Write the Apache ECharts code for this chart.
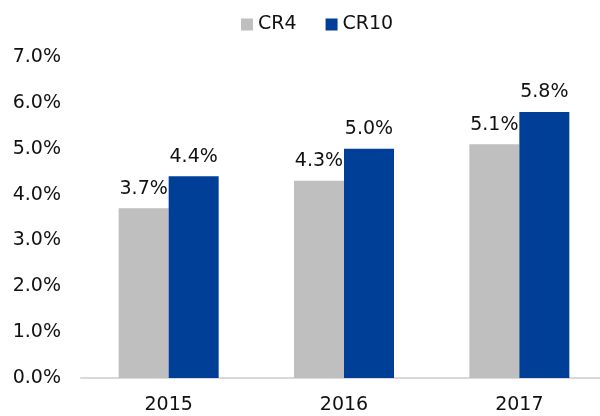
<html>
<head>
<meta http-equiv="Content-Type" content="text/html; charset=utf-8">
<script type="text/javascript" src="https://cdn.jsdelivr.net/npm/echarts@6/dist/echarts.min.js"></script>
<style>
  html, body { margin: 0; padding: 0; background: #fff; overflow: hidden; }
  #main { width: 607px; height: 416px; }
</style>
</head>
<body>
<div id="main"></div>
<script type="text/javascript">
var years = ['2015', '2016', '2017'];
var cr4 = [3.7, 4.3, 5.1];
var cr10 = [4.4, 5.0, 5.8];
var seriesNames = ['CR4', 'CR10'];

var font = 'DejaVu Sans';
function pct(v) { return Number(v).toFixed(1) + '%'; }

var barLabel = {
	show: true,
	position: 'top',
	distance: 10,
	color: '#111',
	fontFamily: font,
	fontSize: 19,
	formatter: function (p) { return pct(p.value); }
};

// plot area runs a few px past the right edge of the window, as in the original
var myChart = echarts.init(document.getElementById('main'));
myChart.setOption({
	animation: false,
	legend: {
		left: 241,
		top: 15,
		padding: 0,
		itemWidth: 12,
		itemHeight: 12,
		itemGap: 29,
		icon: 'rect',
		textStyle: { fontFamily: font, fontSize: 19, color: '#111' },
		data: seriesNames
	},
	grid: { left: 81, right: 0, top: 57, bottom: 38 },
	xAxis: {
		type: 'category',
		data: years,
		axisTick: { show: false },
		axisLine: { lineStyle: { color: '#d9d9d9', width: 2 } },
		axisLabel: { fontFamily: font, fontSize: 19, color: '#111', margin: 18 }
	},
	yAxis: {
		type: 'value',
		min: 0,
		max: 7,
		interval: 1,
		splitLine: { show: false },
		axisLine: { show: false },
		axisLabel: {
			fontFamily: font, fontSize: 19, color: '#111', margin: 20,
			formatter: function (v) { return pct(v); }
		}
	},
	series: [
		{
			name: seriesNames[0],
			type: 'bar',
			data: cr4,
			barWidth: 50,
			barGap: '0%',
			itemStyle: { color: '#bfbfbf' },
			label: barLabel
		},
		{
			name: seriesNames[1],
			type: 'bar',
			data: cr10,
			barWidth: 50,
			itemStyle: { color: '#003f97' },
			label: barLabel
		}
	]
});
</script>
</body>
</html>
